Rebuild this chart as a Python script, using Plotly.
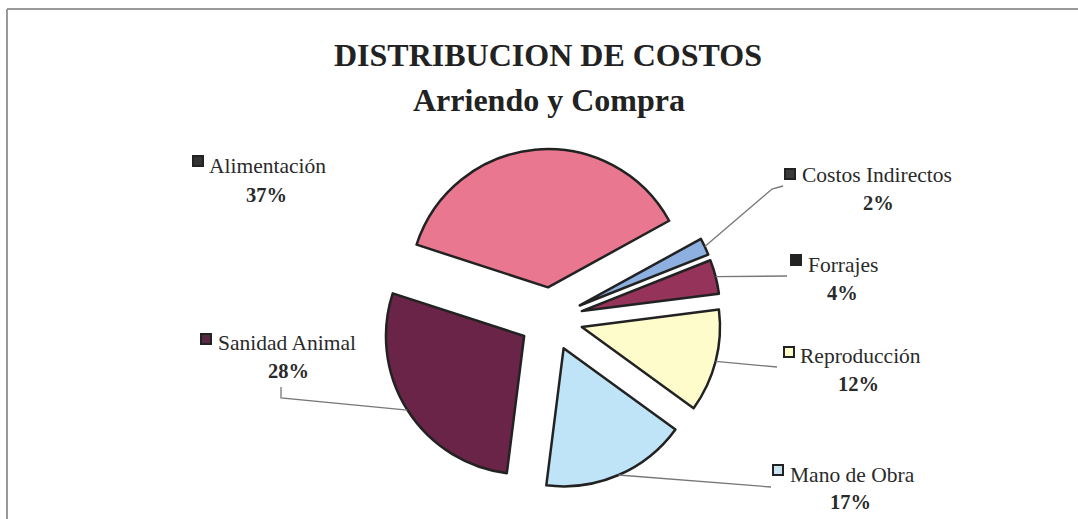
import plotly.graph_objects as go
import math

W, H = 1078, 519

categories = ["Alimentación", "Costos Indirectos", "Forrajes", "Reproducción", "Mano de Obra", "Sanidad Animal"]
values = [37, 2, 4, 12, 17, 28]
pct_labels = ["37%", "2%", "4%", "12%", "17%", "28%"]
colors = ["#E8778F", "#8DB0E0", "#96335A", "#FFFCCC", "#BFE4F8", "#6A2447"]
legend_fill = ["#333333", "#3a3a3a", "#222222", "#FFFCCC", "#C9E2F2", "#5A2A45"]

PULL = 0.23
ROT = -72
CX, CY = 551, 319
BOX = 340
R = BOX / 2 / (1 + PULL)

def fx(x):
    return x / W

def fy(y):
    return 1 - y / H

fig = go.Figure()
fig.add_trace(go.Pie(
    labels=categories, values=values, sort=False, direction="clockwise",
    rotation=ROT, pull=PULL, textinfo="none", showlegend=False,
    marker=dict(colors=colors, line=dict(color="#222222", width=2.5)),
    domain=dict(x=[fx(CX - BOX / 2), fx(CX + BOX / 2)], y=[fy(CY + BOX / 2), fy(CY - BOX / 2)]),
    hoverinfo="label+percent",
))

# label layout: (square x, square y, text left x, text y, pct center x, pct y, leader path end points)
label_pos = [
    (198, 161, 207, 166, 266, 195, []),
    (790, 174, 800, 175, 878, 203, [(772, 189), (783, 186)]),
    (796, 260, 806, 265, 842, 293, [(787, 276)]),
    (789, 352, 798, 356, 858, 384, [(777, 367)]),
    (778, 470, 788, 475, 850, 502, [(771, 487)]),
    (206, 339, 216, 343, 288, 371, [(281, 398), (281, 387)]),
]

shapes = []
annotations = []
total = sum(values)
cum = 0
for i, (cat, v) in enumerate(zip(categories, values)):
    mid = ROT + (cum + v / 2) / total * 360
    cum += v
    a = math.radians(mid)
    sx = CX + (R * PULL + R) * math.sin(a)
    sy = CY - (R * PULL + R) * math.cos(a)
    qx, qy, tx, ty, px_, py_, path = label_pos[i]
    pts = [(sx, sy)] + path
    if path:
        d = "M {} {}".format(fx(pts[0][0]), fy(pts[0][1]))
        for (x, y) in pts[1:]:
            d += " L {} {}".format(fx(x), fy(y))
        shapes.append(dict(type="path", path=d, xref="paper", yref="paper",
                           line=dict(color="#777777", width=1.3)))
    s = 10
    shapes.append(dict(type="rect", xref="paper", yref="paper",
                       x0=fx(qx - s / 2), x1=fx(qx + s / 2), y0=fy(qy + s / 2), y1=fy(qy - s / 2),
                       fillcolor=legend_fill[i], line=dict(color="#222222", width=2)))
    annotations.append(dict(text=cat, x=fx(tx), y=fy(ty), xref="paper", yref="paper",
                            xanchor="left", yanchor="middle", showarrow=False,
                            font=dict(family="Liberation Serif", size=21.5, color="#2a2a2a")))
    annotations.append(dict(text="<b>" + pct_labels[i] + "</b>", x=fx(px_), y=fy(py_), xref="paper", yref="paper",
                            xanchor="center", yanchor="middle", showarrow=False,
                            font=dict(family="Liberation Serif", size=20.5, color="#2a2a2a")))

# frame
shapes.append(dict(type="line", xref="paper", yref="paper", x0=fx(7), x1=1, y0=fy(9), y1=fy(9),
                   line=dict(color="#9a9a9a", width=2)))
shapes.append(dict(type="line", xref="paper", yref="paper", x0=fx(7), x1=fx(7), y0=fy(9), y1=0,
                   line=dict(color="#9a9a9a", width=2)))

annotations.append(dict(text="<b>DISTRIBUCION DE COSTOS</b>", x=fx(548), y=fy(55), xref="paper", yref="paper",
                        xanchor="center", yanchor="middle", showarrow=False,
                        font=dict(family="Liberation Serif", size=32, color="#222222")))
annotations.append(dict(text="<b>Arriendo y Compra</b>", x=fx(549), y=fy(100), xref="paper", yref="paper",
                        xanchor="center", yanchor="middle", showarrow=False,
                        font=dict(family="Liberation Serif", size=32, color="#222222")))

fig.update_layout(width=W, height=H, margin=dict(l=0, r=0, t=0, b=0),
                  paper_bgcolor="white", plot_bgcolor="white",
                  shapes=shapes, annotations=annotations)
fig.write_html("out.html", config={"displayModeBar": False},
               post_script="document.body.style.margin='0';document.body.style.overflow='hidden';")
